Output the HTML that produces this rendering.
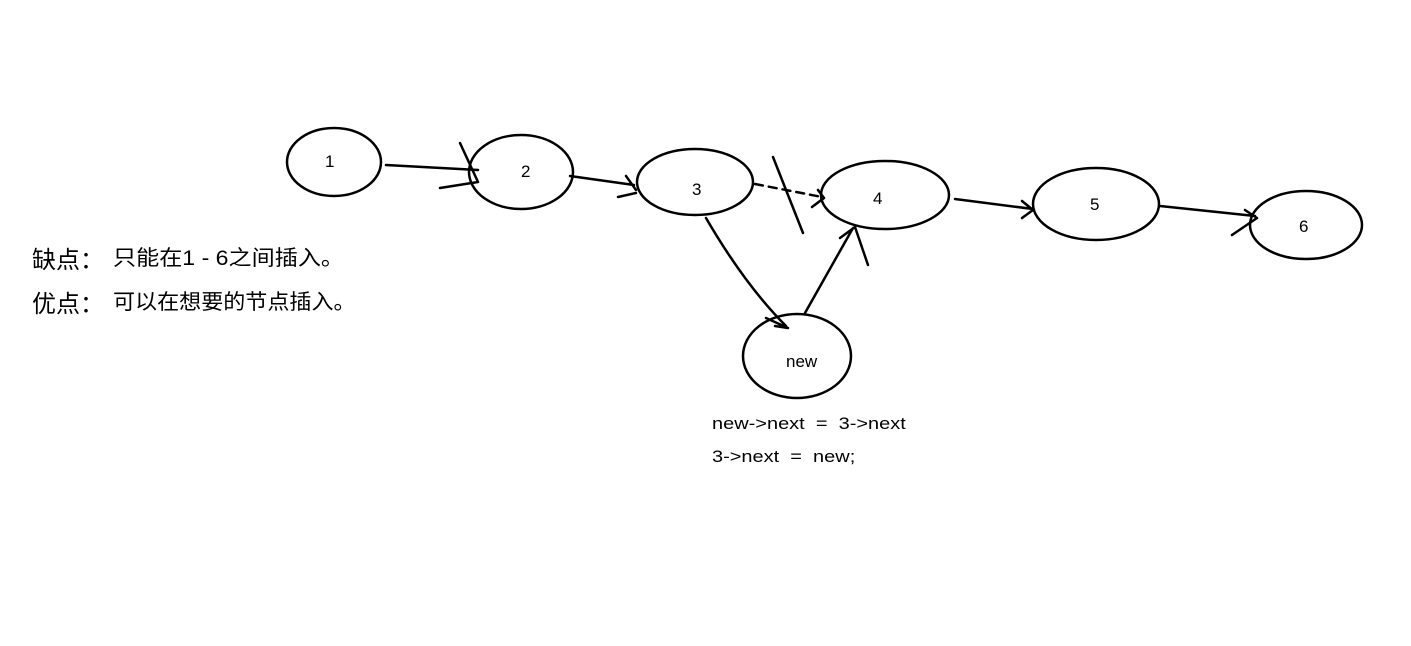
<!DOCTYPE html>
<html><head><meta charset="utf-8"><style>
body{margin:0;background:#fff;width:1411px;height:646px;overflow:hidden;position:relative}
.t{position:absolute;font-family:"Liberation Sans","Noto Sans CJK SC",sans-serif;color:#000;white-space:pre}
</style></head><body>
<svg width="1411" height="646" style="position:absolute;left:0;top:0" fill="none" stroke="#000" stroke-width="2.5" stroke-linecap="round" stroke-linejoin="round">
<ellipse cx="334" cy="162" rx="47" ry="34"/>
<ellipse cx="521" cy="172" rx="52" ry="37"/>
<ellipse cx="695" cy="182" rx="58" ry="33"/>
<ellipse cx="885" cy="195" rx="64" ry="34"/>
<ellipse cx="1096" cy="204" rx="63" ry="36"/>
<ellipse cx="1306" cy="225" rx="56" ry="34"/>
<ellipse cx="797" cy="356" rx="54" ry="42"/>
<path d="M386 165 L478 170 M460 143 L478 182 M440 188 L478 182"/>
<path d="M570 176 L634 185 M626 176 L636 190 M618 197 L636 193"/>
<path d="M755 184 L822 197" stroke-dasharray="8 6"/>
<path d="M818 190 L824 198 L812 207 M773 157 L803 233"/>
<path d="M955 199 L1033 209 M1022 201 L1033 210 L1022 218"/>
<path d="M1160 206 L1255 216 M1245 210 L1257 218 L1232 235"/>
<path d="M706 218 Q745 285 786 326 M766 318 L788 328 L775 326"/>
<path d="M805 313 L853 228 M840 238 L855 227 L868 265"/>
</svg>
<div class="t" style="left:325px;top:152px;font-size:17px">1</div>
<div class="t" style="left:521px;top:162px;font-size:17px">2</div>
<div class="t" style="left:692px;top:180px;font-size:17px">3</div>
<div class="t" style="left:873px;top:189px;font-size:17px">4</div>
<div class="t" style="left:1090px;top:195px;font-size:17px">5</div>
<div class="t" style="left:1299px;top:217px;font-size:17px">6</div>
<div class="t" style="left:786px;top:352px;font-size:17px">new</div>
<div class="t" style="left:32px;top:240px;font-size:24px">缺点：</div>
<div class="t" style="left:113px;top:242px;font-size:21px;transform:scaleX(1.1);transform-origin:0 0">只能在1 - 6之间插入。</div>
<div class="t" style="left:32px;top:284px;font-size:24px">优点：</div>
<div class="t" style="left:113px;top:286px;font-size:21px;transform:scaleX(1.05);transform-origin:0 0">可以在想要的节点插入。</div>
<div class="t" style="left:712px;top:414px;font-size:17px;transform:scaleX(1.175);transform-origin:0 0">new-&gt;next  =  3-&gt;next</div>
<div class="t" style="left:712px;top:447px;font-size:17px;transform:scaleX(1.175);transform-origin:0 0">3-&gt;next  =  new;</div>
</body></html>
